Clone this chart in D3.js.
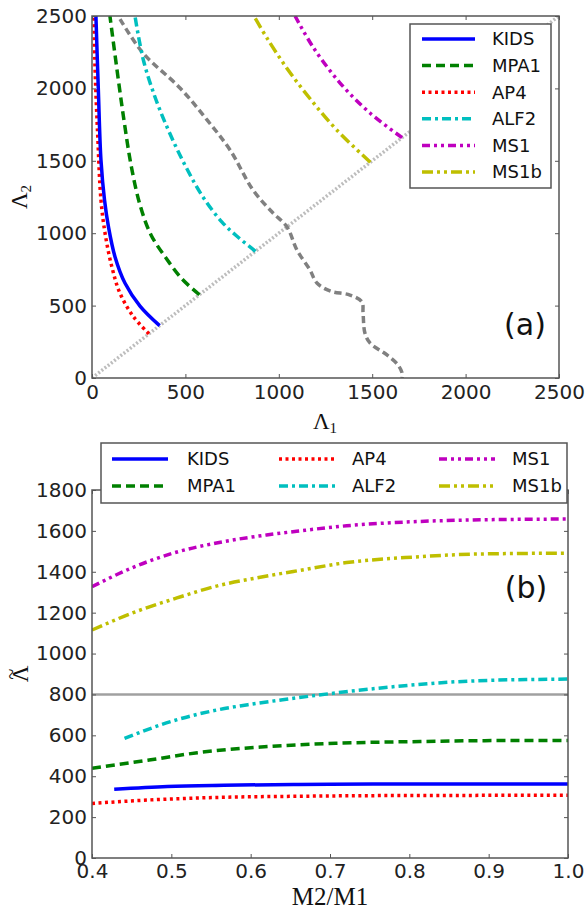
<!DOCTYPE html>
<html><head><meta charset="utf-8">
<script src="https://cdn.jsdelivr.net/npm/d3@7"></script>
<style>body{margin:0;background:#fff}</style>
</head><body><svg id="c" width="585" height="913" xmlns="http://www.w3.org/2000/svg"></svg>
<script>
// ---------- DATA ----------
const seriesNames = ["KIDS","MPA1","AP4","ALF2","MS1","MS1b"];
const seriesColors = ["#0000ff","#008000","#ff0000","#00bfbf","#bf00bf","#bfbf00"];
const seriesDashes = ["none","9,5","3,3.5","9,4,3,4","8,4,3,4,3,4","11,4,3,4,3,4"];

// Panel (a): Lambda1 vs Lambda2
const kidsL1 = [362,257,177,123,88,67,48,34,21];
const kidsL2 = [362,497,654,838,1045,1229,1505,1989,2500];
const mpa1L1 = [575,482,396,316,257,209,171,134,96];
const mpa1L2 = [575,684,829,988,1195,1471,1782,2127,2500];
const ap4L1  = [305,222,150,106,70,48,30,16,11];
const ap4L2  = [305,423,585,769,999,1229,1690,2150,2500];
const alf2L1 = [875,787,696,594,503,418,343,275,230];
const alf2L2 = [875,967,1077,1250,1457,1685,1920,2196,2500];
const ms1L1  = [1660,1488,1328,1183,1087];
const ms1L2  = [1660,1830,2037,2286,2500];
const ms1bL1 = [1490,1310,1173,1050,943,867];
const ms1bL2 = [1490,1713,1920,2127,2334,2500];
const boundL1 = [150,273,471,616,739,862,964,1044,1097,1167,1204,1274,1381,1445,1451,1461,1488,1579,1638,1660,1660];
const boundL2 = [2479,2244,2003,1782,1575,1298,1146,1043,884,746,656,601,573,525,449,311,242,159,90,35,0];
const diagL = [0,2500];

// Panel (b): Lambda-tilde vs q = M2/M1
const kidsQ = [0.428,0.495,0.566,0.66,0.754,0.848,1.0];
const kidsLt = [336,350,356,360,362,362,362];
const mpa1Q = [0.4,0.472,0.533,0.613,0.707,0.801,0.895,1.0];
const mpa1Lt = [439,479,515,543,561,569,574,575];
const ap4Q = [0.4,0.472,0.566,0.66,0.754,0.848,1.0];
const ap4Lt = [267,284,297,302,305,306,307];
const alf2Q = [0.441,0.5,0.55,0.6,0.65,0.7,0.75,0.8,0.85,0.9,0.95,1.0];
const alf2Lt = [585,668,718,752,779,804,826,845,860,869,873,875];
const ms1Q = [0.4,0.452,0.503,0.557,0.62,0.662,0.721,0.805,0.889,1.0];
const ms1Lt = [1327,1422,1492,1541,1580,1600,1625,1645,1654,1658];
const ms1bQ = [0.4,0.452,0.507,0.557,0.612,0.662,0.721,0.805,0.889,1.0];
const ms1bLt = [1115,1200,1272,1330,1373,1407,1445,1472,1487,1491];
const refLt = 800;

const ticksA = [0,500,1000,1500,2000,2500];
const ticksBx = [0.4,0.5,0.6,0.7,0.8,0.9,1.0];
const ticksBy = [0,200,400,600,800,1000,1200,1400,1600,1800];

// ---------- DRAW ----------
const svg = d3.select("#c");
const SANS = "DejaVu Sans, sans-serif";
const SERIF = "Liberation Serif, DejaVu Serif, serif";
const AX = "#555";
const LW = 3.5;

const xA = d3.scaleLinear().domain([0,2500]).range([92,559]);
const yA = d3.scaleLinear().domain([0,2500]).range([378,16]);
const xB = d3.scaleLinear().domain([0.4,1.0]).range([92,568]);
const yB = d3.scaleLinear().domain([0,1800]).range([858,490]);

const defs = svg.append("defs");
defs.append("clipPath").attr("id","clipA").append("rect")
  .attr("x",92).attr("y",16).attr("width",559-92).attr("height",378-16);
defs.append("clipPath").attr("id","clipB").append("rect")
  .attr("x",92).attr("y",490).attr("width",568-92).attr("height",858-490);

function drawAxes(x, y, xt, yt, xfmt, yfmt, padX) {
  const [x0,x1] = x.range(), [y0,y1] = y.range();
  const styleAxis = g => {
    g.select(".domain").remove();
    g.selectAll(".tick line").attr("stroke",AX).attr("stroke-width",1);
    g.selectAll("text").attr("font-family",SANS).attr("font-size","20px").attr("fill","#222");
  };
  svg.append("g").attr("transform",`translate(0,${y0})`)
    .call(d3.axisBottom(x).tickValues(xt).tickFormat(xfmt).tickSizeInner(-4).tickSizeOuter(0).tickPadding(padX))
    .call(styleAxis);
  svg.append("g").attr("transform",`translate(0,${y1})`)
    .call(d3.axisTop(x).tickValues(xt).tickFormat("").tickSizeInner(-4).tickSizeOuter(0))
    .call(styleAxis);
  svg.append("g").attr("transform",`translate(${x0},0)`)
    .call(d3.axisLeft(y).tickValues(yt).tickFormat(yfmt).tickSizeInner(-4).tickSizeOuter(0).tickPadding(5))
    .call(styleAxis);
  svg.append("g").attr("transform",`translate(${x1},0)`)
    .call(d3.axisRight(y).tickValues(yt).tickFormat("").tickSizeInner(-4).tickSizeOuter(0))
    .call(styleAxis);
  svg.append("rect").attr("x",x0).attr("y",y1).attr("width",x1-x0).attr("height",y0-y1)
    .attr("fill","none").attr("stroke",AX).attr("stroke-width",1.5);
}

const zip = (a,b) => a.map((v,i)=>[v,b[i]]);

// ---- Panel (a) ----
const gA = svg.append("g").attr("clip-path","url(#clipA)");
const lineA = d3.line().x(d=>xA(d[0])).y(d=>yA(d[1])).curve(d3.curveCatmullRom.alpha(0.5));

gA.append("path").datum(zip(diagL,diagL)).attr("d",d3.line().x(d=>xA(d[0])).y(d=>yA(d[1])))
  .attr("fill","none").attr("stroke","#bdbdbd").attr("stroke-width",3.5).attr("stroke-dasharray","2,2");
gA.append("path").datum(zip(boundL1,boundL2)).attr("d",lineA)
  .attr("fill","none").attr("stroke","#808080").attr("stroke-width",LW).attr("stroke-dasharray","7,4");

const dataA = [zip(kidsL1,kidsL2), zip(mpa1L1,mpa1L2), zip(ap4L1,ap4L2), zip(alf2L1,alf2L2), zip(ms1L1,ms1L2), zip(ms1bL1,ms1bL2)];
[2,0,1,3,5,4].forEach(i=>{
  gA.append("path").datum(dataA[i]).attr("d",lineA).attr("fill","none")
    .attr("stroke",seriesColors[i]).attr("stroke-width",LW)
    .attr("stroke-dasharray",seriesDashes[i]);
});

drawAxes(xA, yA, ticksA, ticksA, d3.format("d"), d3.format("d"), 7);

// legend (a)
const legA = svg.append("g");
legA.append("rect").attr("x",410).attr("y",24).attr("width",551-410).attr("height",188-24)
  .attr("fill","#fff").attr("stroke",AX).attr("stroke-width",1.5);
seriesNames.forEach((n,i)=>{
  const yy = 39 + i*26.6;
  legA.append("line").attr("x1",422).attr("x2",475).attr("y1",yy).attr("y2",yy)
    .attr("stroke",seriesColors[i]).attr("stroke-width",LW).attr("stroke-dasharray",seriesDashes[i]);
  legA.append("text").attr("x",492).attr("y",yy).attr("dy","0.36em").text(n)
    .attr("font-family",SANS).attr("font-size","18px").attr("fill","#111");
});

svg.append("text").attr("x",525).attr("y",324).attr("dy","0.36em").attr("text-anchor","middle")
  .attr("font-family",SANS).attr("font-size","30px").attr("fill","#111").text("(a)");

// axis labels (a)
const lx = svg.append("text").attr("x",325).attr("y",429).attr("text-anchor","middle")
  .attr("font-family",SERIF).attr("font-size","23px").attr("fill","#111");
lx.append("tspan").text("Λ");
lx.append("tspan").attr("font-size","15px").attr("dy","4").text("1");
const ly = svg.append("text").attr("transform","translate(27,197) rotate(-90)").attr("text-anchor","middle")
  .attr("font-family",SERIF).attr("font-size","23px").attr("fill","#111");
ly.append("tspan").text("Λ");
ly.append("tspan").attr("font-size","15px").attr("dy","4").text("2");

// ---- Panel (b) ----
const gB = svg.append("g").attr("clip-path","url(#clipB)");
const lineB = d3.line().x(d=>xB(d[0])).y(d=>yB(d[1])).curve(d3.curveMonotoneX);

gB.append("line").attr("x1",xB(0.4)).attr("x2",xB(1.0)).attr("y1",yB(refLt)).attr("y2",yB(refLt))
  .attr("stroke","#a0a0a0").attr("stroke-width",2.5);

const dataB = [zip(kidsQ,kidsLt), zip(mpa1Q,mpa1Lt), zip(ap4Q,ap4Lt), zip(alf2Q,alf2Lt), zip(ms1Q,ms1Lt), zip(ms1bQ,ms1bLt)];
[2,0,1,3,5,4].forEach(i=>{
  gB.append("path").datum(dataB[i]).attr("d",lineB).attr("fill","none")
    .attr("stroke",seriesColors[i]).attr("stroke-width",LW)
    .attr("stroke-dasharray",seriesDashes[i]);
});

drawAxes(xB, yB, ticksBx, ticksBy, d3.format(".1f"), d3.format("d"), 6);

// legend (b)
const legB = svg.append("g");
legB.append("rect").attr("x",101).attr("y",443).attr("width",567-101).attr("height",503-443)
  .attr("fill","#fff").attr("stroke",AX).attr("stroke-width",1.5);
const colLine = [112,279,439], colText = [187,352,512], rowY = [459,486];
seriesNames.forEach((n,i)=>{
  const c = Math.floor(i/2), r = i%2;
  legB.append("line").attr("x1",colLine[c]).attr("x2",colLine[c]+56).attr("y1",rowY[r]).attr("y2",rowY[r])
    .attr("stroke",seriesColors[i]).attr("stroke-width",LW).attr("stroke-dasharray",seriesDashes[i]);
  legB.append("text").attr("x",colText[c]).attr("y",rowY[r]).attr("dy","0.36em").text(n)
    .attr("font-family",SANS).attr("font-size","18px").attr("fill","#111");
});

svg.append("text").attr("x",526).attr("y",587).attr("dy","0.36em").attr("text-anchor","middle")
  .attr("font-family",SANS).attr("font-size","30px").attr("fill","#111").text("(b)");

svg.append("text").attr("x",330).attr("y",905).attr("text-anchor","middle")
  .attr("font-family",SERIF).attr("font-size","25px").attr("fill","#111").text("M2/M1");
const lt = svg.append("g").attr("transform","translate(28,674) rotate(-90)");
lt.append("text").attr("x",0).attr("y",0).attr("text-anchor","middle")
  .attr("font-family",SERIF).attr("font-size","23px").attr("fill","#111").text("Λ");
lt.append("text").attr("x",0).attr("y",-10).attr("text-anchor","middle")
  .attr("font-family",SERIF).attr("font-size","20px").attr("fill","#111").text("~");
</script></body></html>
